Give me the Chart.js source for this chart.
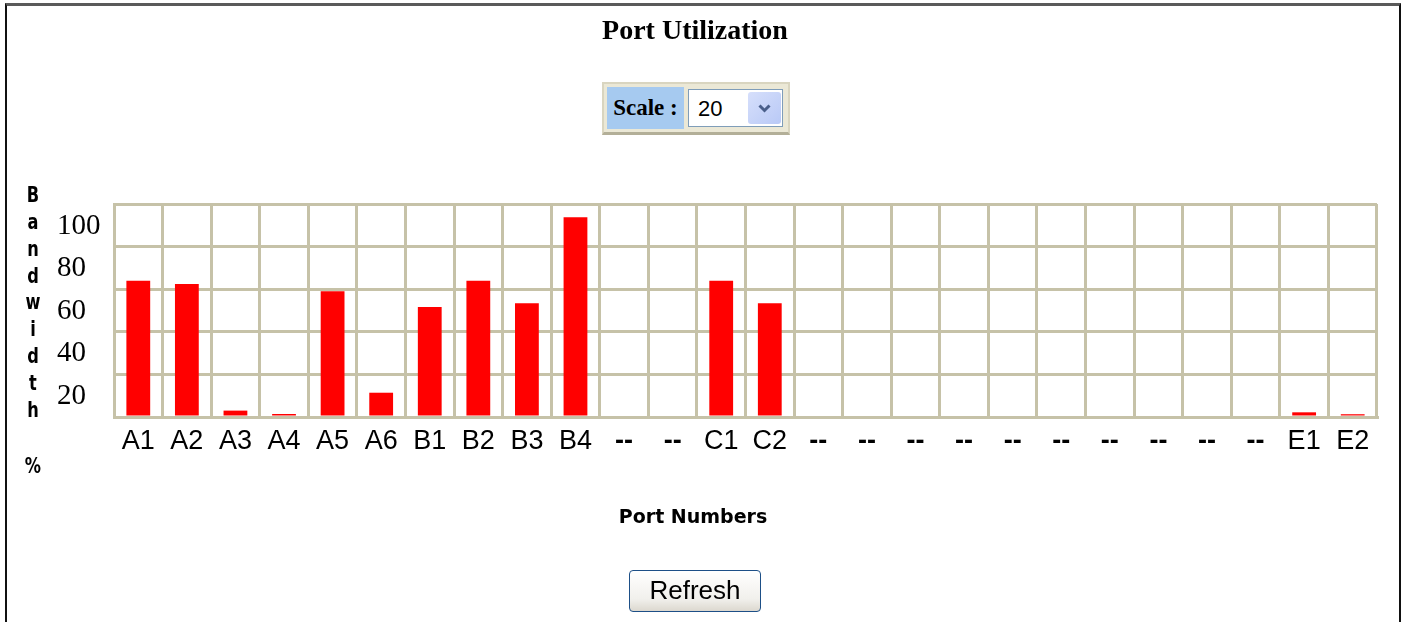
<!DOCTYPE html>
<html>
<head>
<meta charset="utf-8">
<script src="https://cdn.jsdelivr.net/npm/chart.js@4.4.1/dist/chart.umd.min.js"></script>
<style>
  html, body { margin: 0; padding: 0; background: #fff; }
  body { width: 1406px; height: 622px; position: relative; overflow: hidden; }
  #frame { position: absolute; left: 5px; top: 3px; width: 1392px; height: 700px;
           border-top: 3px solid #5a5a5a; border-left: 2px solid #111; border-right: 2px solid #111; }
  #chartCanvas { position: absolute; left: 0; top: 0; z-index: 1; }
  .abs { position: absolute; z-index: 2; }
  #title { left: 0; width: 1390px; top: 16px; text-align: center; font: bold 28px "Liberation Serif", serif; line-height: 28px; color: #000; }
  #scaleBox { left: 602px; top: 82px; width: 184px; height: 48px; background: #ebe8d6;
              border: 2px solid #d9d5c0; border-bottom: 3px solid #b3af98; }
  #scaleLbl { left: 3px; top: 3px; width: 77px; height: 42px; background: #a6caf0;
              font: bold 23px "Liberation Serif", serif; line-height: 42px; color: #000; text-align: center; }
  #scaleSel { left: 84px; top: 5px; width: 95px; height: 38px; background: #fff; border: 1px solid #7f9db9; box-sizing: border-box; }
  #scaleVal { left: 9px; top: 0; font: 22px "Liberation Sans", sans-serif; line-height: 38px; color: #000; }
  #scaleBtn { left: 59px; top: 2px; width: 33px; height: 32px; border-radius: 3px;
              background: linear-gradient(135deg, #d6dffb, #b9c9f6); }
  #portNums { left: 0; width: 1386px; top: 507px; text-align: center; font: bold 19px "DejaVu Sans", sans-serif; line-height: 19px; color: #000; }
  #refresh { left: 629px; top: 570px; width: 132px; height: 42px; box-sizing: border-box;
             border: 1px solid #1d4f87; border-radius: 4px;
             background: linear-gradient(#ffffff, #f1f0ec 70%, #dcd8cf);
             font: 26px "Liberation Sans", sans-serif; color: #000; text-align: center; line-height: 38px; }
  .ylet { position: absolute; z-index: 2; left: 23px; width: 20px; text-align: center;
          font: bold 18px "DejaVu Sans", sans-serif; line-height: 18px; color: #000;
          transform: scale(0.9, 1.2); transform-origin: 50% 85%; }
</style>
</head>
<body>
<div id="frame"></div>
<canvas id="chartCanvas" width="1406" height="622"></canvas>
<div id="title" class="abs">Port Utilization</div>
<div id="scaleBox" class="abs">
  <div id="scaleLbl" class="abs">Scale :</div>
  <div id="scaleSel" class="abs">
    <div id="scaleVal" class="abs">20</div>
    <div id="scaleBtn" class="abs">
      <svg width="33" height="32" viewBox="0 0 33 32"><polyline points="11.5,13.5 16.5,18.5 21.5,13.5" fill="none" stroke="#4a5f8a" stroke-width="3"/></svg>
    </div>
  </div>
</div>
<div id="portNums" class="abs">Port Numbers</div>
<div id="refresh" class="abs">Refresh</div>
<script>
// ---- data ----
const categories = ['A1','A2','A3','A4','A5','A6','B1','B2','B3','B4','--','--','C1','C2',
                    '--','--','--','--','--','--','--','--','--','--','E1','E2'];
const bandwidth = [64, 62.5, 3, 1.4, 59, 11.4, 51.6, 64, 53.4, 93.8, 0, 0, 64, 53.4,
                   0, 0, 0, 0, 0, 0, 0, 0, 0, 0, 2.2, 1.3];
const yTicks = [0, 20, 40, 60, 80, 100];
const yTitleLetters = ['B','a','n','d','w','i','d','t','h'];
const yTitleUnit = '%';
const chartTitle = 'Port Utilization';
const xTitle = 'Port Numbers';
const scaleValue = '20';

document.getElementById('title').textContent = chartTitle;
document.getElementById('portNums').textContent = xTitle;
document.getElementById('scaleVal').textContent = scaleValue;

// stacked y-axis title
yTitleLetters.forEach((ch, i) => {
  const d = document.createElement('div');
  d.className = 'ylet';
  d.textContent = ch;
  d.style.top = (202 + i * 26.9 - 15.2) + 'px';
  document.body.appendChild(d);
});
const pct = document.createElement('div');
pct.className = 'ylet';
pct.textContent = yTitleUnit;
pct.style.top = (473 - 15.2) + 'px';
document.body.appendChild(pct);

const gridColor = '#c6c2a8';

new Chart(document.getElementById('chartCanvas'), {
  type: 'bar',
  data: {
    labels: categories,
    datasets: [{
      data: bandwidth,
      backgroundColor: '#ff0000',
      borderWidth: 0,
      barPercentage: 0.49,
      categoryPercentage: 1.0
    }]
  },
  options: {
    responsive: false,
    animation: false,
    events: [],
    layout: { padding: { top: 204, left: 57, right: 29, bottom: 165 } },
    plugins: { legend: { display: false }, tooltip: { enabled: false }, title: { display: false } },
    scales: {
      x: {
        grid: { color: gridColor, lineWidth: 3, drawTicks: false, offset: true },
        border: { color: gridColor, width: 3 },
        ticks: {
          font: (ctx) => ({ family: 'Liberation Sans', size: 27,
                            weight: (ctx.tick && ctx.tick.label === '--') ? 'bold' : 'normal' }),
          color: '#000',
          padding: 8,
          autoSkip: false,
          maxRotation: 0,
          minRotation: 0
        },
        afterFit: (s) => { s.height = 40; }
      },
      y: {
        min: yTicks[0],
        max: yTicks[yTicks.length - 1],
        grid: { color: gridColor, lineWidth: 3, drawTicks: false },
        border: { color: gridColor, width: 3 },
        afterBuildTicks: (s) => { s.ticks = yTicks.map(v => ({ value: v })); },
        ticks: {
          font: { family: 'Liberation Serif', size: 29 },
          color: '#000',
          padding: 0,
          crossAlign: 'far',
          labelOffset: 22,
          callback: (v) => (v === 0 ? '' : String(v))
        },
        afterFit: (s) => { s.width = 57; }
      }
    }
  }
});
</script>
</body>
</html>
